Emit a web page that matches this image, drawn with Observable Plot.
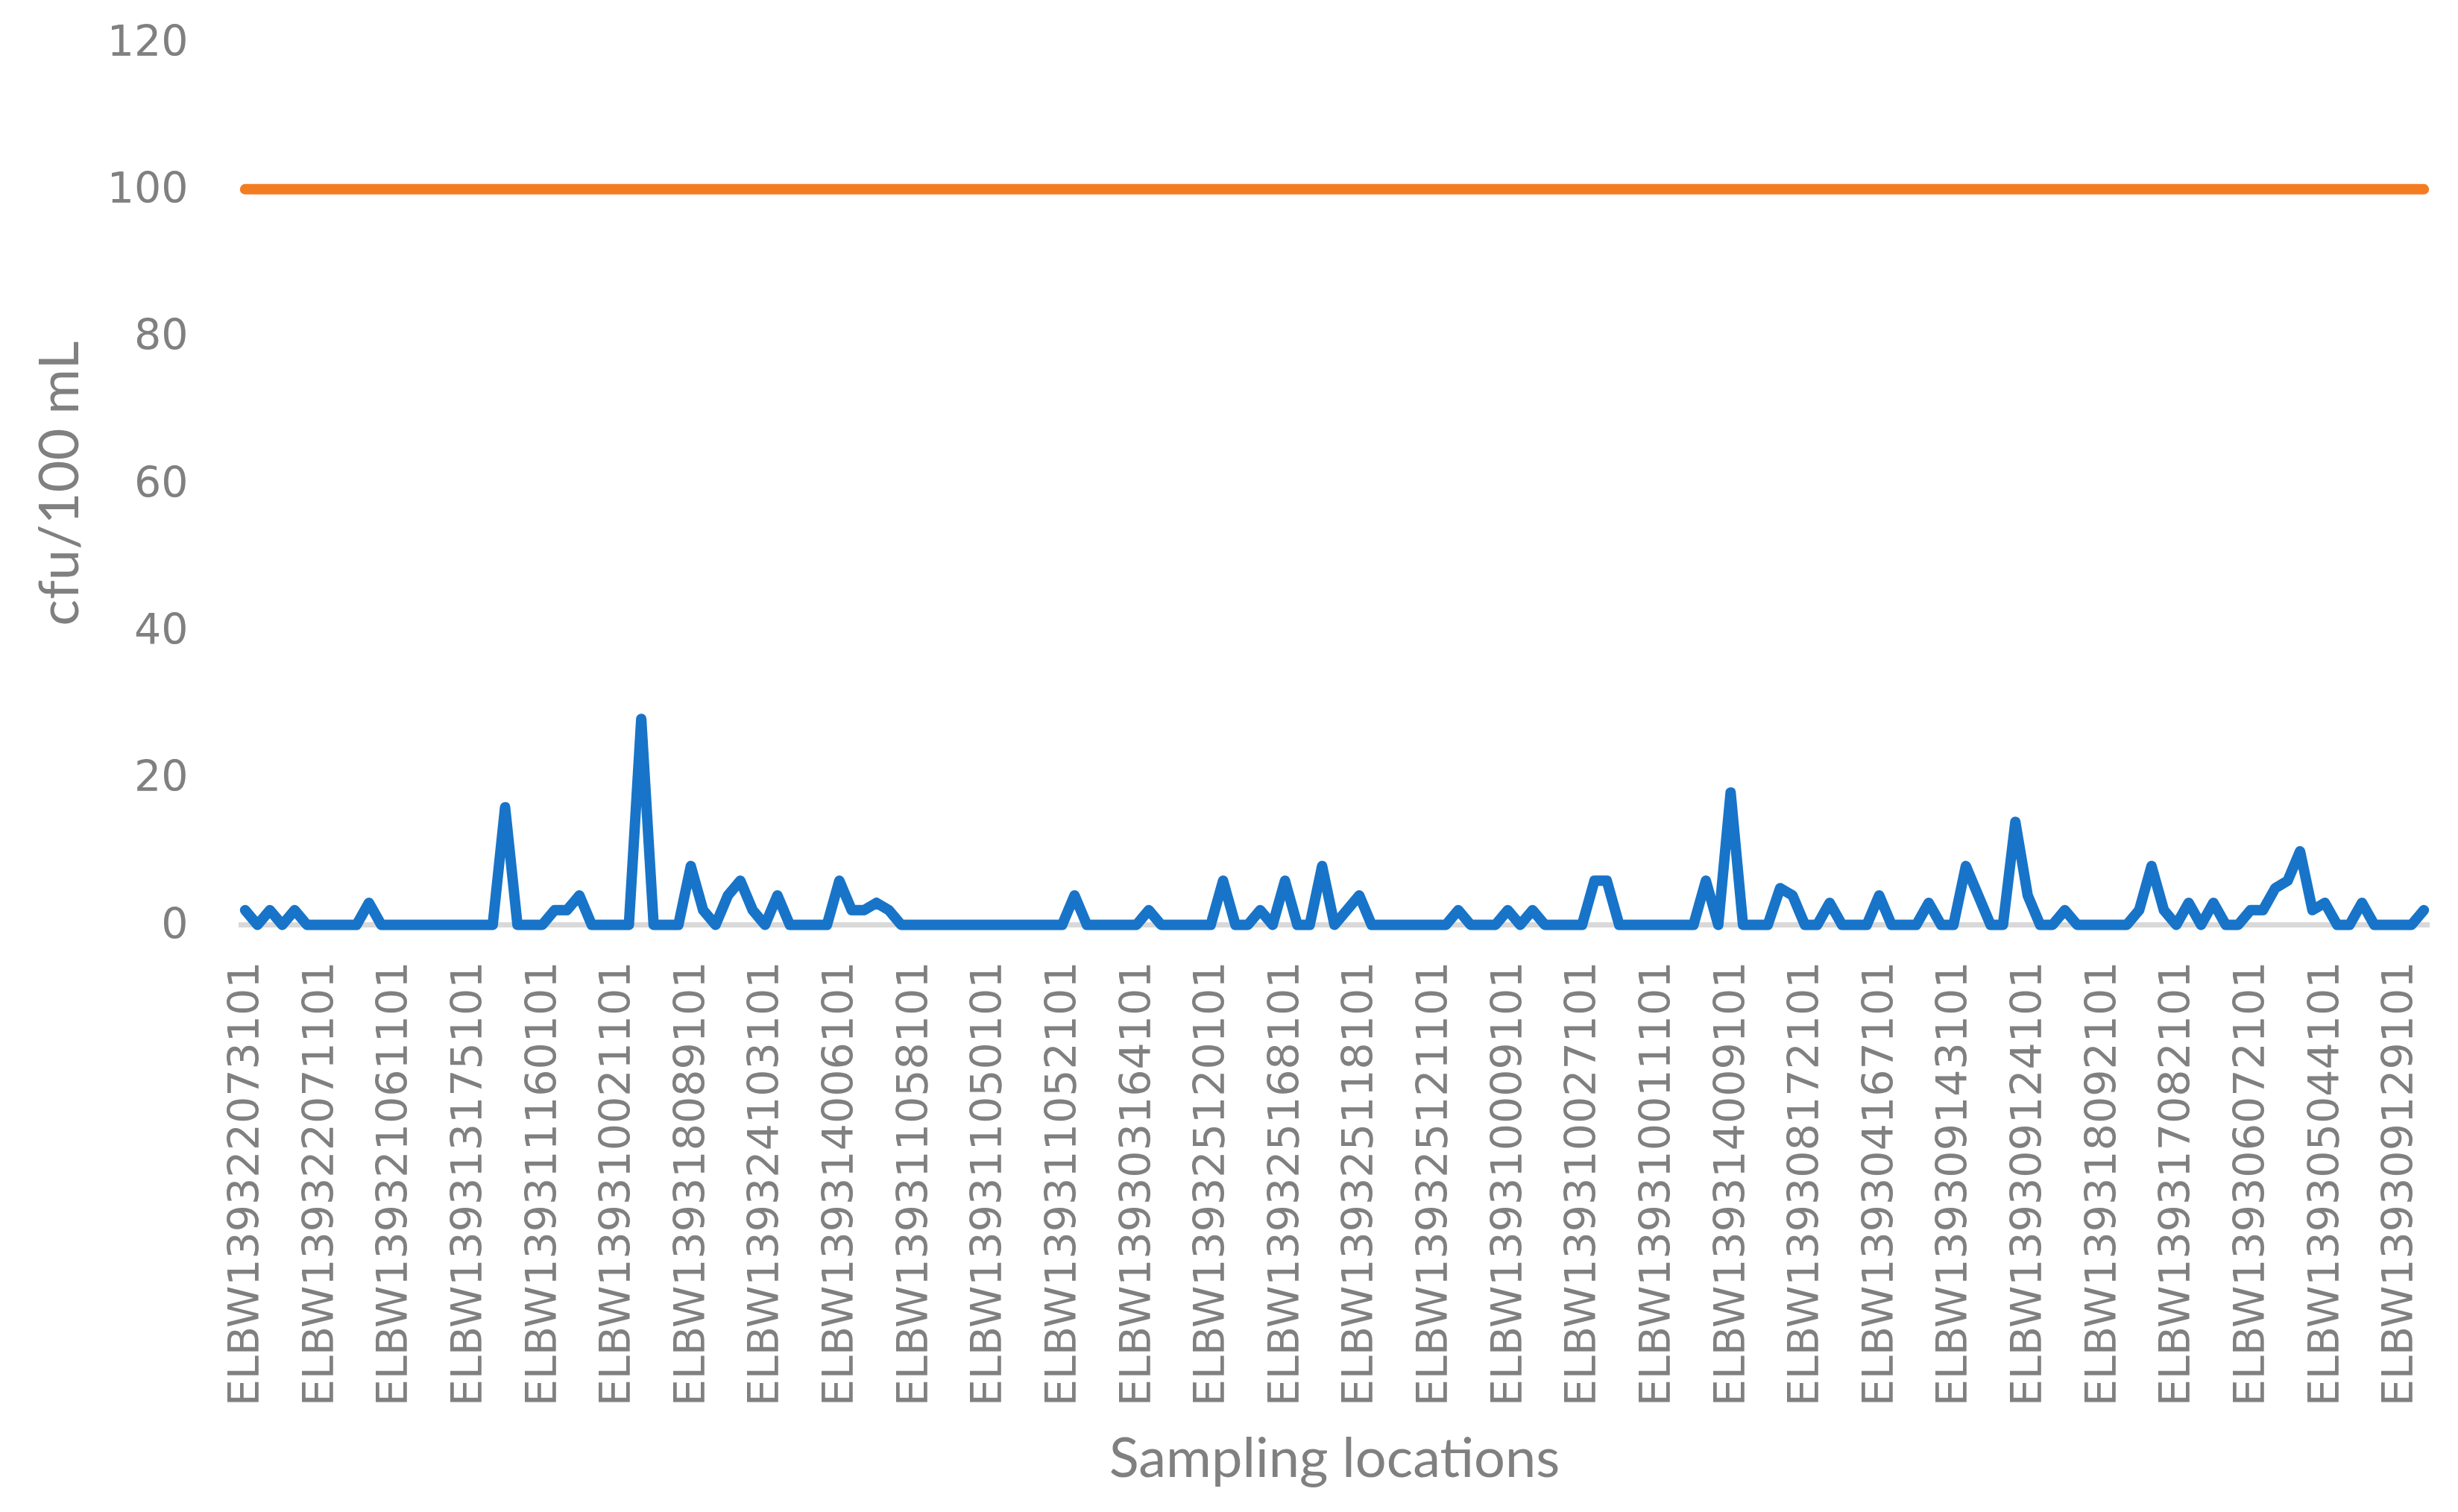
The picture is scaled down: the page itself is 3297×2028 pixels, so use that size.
<!DOCTYPE html>
<html>
<head>
<meta charset="utf-8">
<script src="https://cdn.jsdelivr.net/npm/d3@7"></script>
<script src="https://cdn.jsdelivr.net/npm/@observablehq/plot@0.6"></script>
<style>
  html, body { margin: 0; padding: 0; background: #ffffff; }
  #chart svg { display: block; }
</style>
</head>
<body>
<div id="chart"></div>
<script>
// E. coli counts (cfu/100 mL) at each sampling location, in order
const values = [
  2,0,2,0,2,0,0,0,0,0,
  3,0,0,0,0,0,0,0,0,0,
  0,16,0,0,0,2,2,4,0,0,
  0,0,28,0,0,0,8,2,0,4,
  6,2,0,4,0,0,0,0,6,2,
  2,3,2,0,0,0,0,0,0,0,
  0,0,0,0,0,0,0,4,0,0,
  0,0,0,2,0,0,0,0,0,6,
  0,0,2,0,6,0,0,8,0,2,
  4,0,0,0,0,0,0,0,2,0,
  0,0,2,0,2,0,0,0,0,6,
  6,0,0,0,0,0,0,0,6,0,
  18,0,0,0,5,4,0,0,3,0,
  0,0,4,0,0,0,3,0,0,8,
  4,0,0,14,4,0,0,2,0,0,
  0,0,0,2,8,2,0,3,0,3,
  0,0,2,2,5,6,10,2,3,0,
  0,3,0,0,0,0,2
];

// Guideline value (cfu/100 mL)
const limit = 100;

// Category labels shown on the axis (every 6th sampling location)
const labelStep = 6;
const labels = [
  "ELBW139322073101","ELBW139322071101","ELBW139321061101","ELBW139313175101",
  "ELBW139311160101","ELBW139310021101","ELBW139318089101","ELBW139324103101",
  "ELBW139314006101","ELBW139311058101","ELBW139311050101","ELBW139311052101",
  "ELBW139303164101","ELBW139325120101","ELBW139325168101","ELBW139325118101",
  "ELBW139325121101","ELBW139310009101","ELBW139310027101","ELBW139310011101",
  "ELBW139314009101","ELBW139308172101","ELBW139304167101","ELBW139309143101",
  "ELBW139309124101","ELBW139318092101","ELBW139317082101","ELBW139306072101",
  "ELBW139305044101","ELBW139309129101"
];

const yTicks = [0, 20, 40, 60, 80, 100, 120];
const xTitle = "Sampling locations";
const yTitle = "cfu/100 mL";

const rows = values.map((v, i) => ({i, v}));
const limitRows = values.map((v, i) => ({i, v: limit}));
const tickIdx = labels.map((d, k) => k * labelStep);

const chart = Plot.plot({
  width: 3297,
  height: 2028,
  marginLeft: 320,
  marginRight: 38,
  marginTop: 56,
  marginBottom: 788,
  style: {fontFamily: "'DejaVu Sans', sans-serif", color: "#808080", background: "#ffffff"},
  x: {domain: [-0.5, values.length - 0.5]},
  y: {domain: [0, 120]},
  marks: [
    Plot.axisY({ticks: yTicks, tickSize: 0, tickPadding: 68, fontSize: 57, label: null}),
    Plot.axisX({
      ticks: tickIdx,
      tickFormat: (i) => labels[i / labelStep],
      tickRotate: -90,
      tickSize: 0,
      tickPadding: 49,
      fontSize: 57,
      label: null
    }),
    Plot.ruleY([0], {stroke: "#d9d9d9", strokeWidth: 7}),
    Plot.line(limitRows, {x: "i", y: "v", stroke: "#f47c20", strokeWidth: 14}),
    Plot.line(rows, {x: "i", y: "v", stroke: "#1874c8", strokeWidth: 14}),
    Plot.text([xTitle], {
      frameAnchor: "bottom", dy: 717, lineAnchor: "middle", textAnchor: "middle",
      fontFamily: "Lato", fontSize: 74, fill: "#808080"
    }),
    Plot.text([yTitle], {
      frameAnchor: "left", dx: -239, rotate: -90, lineAnchor: "middle", textAnchor: "middle",
      fontFamily: "Lato", fontSize: 74, fill: "#808080"
    })
  ]
});

document.getElementById("chart").appendChild(chart);
</script>
</body>
</html>
